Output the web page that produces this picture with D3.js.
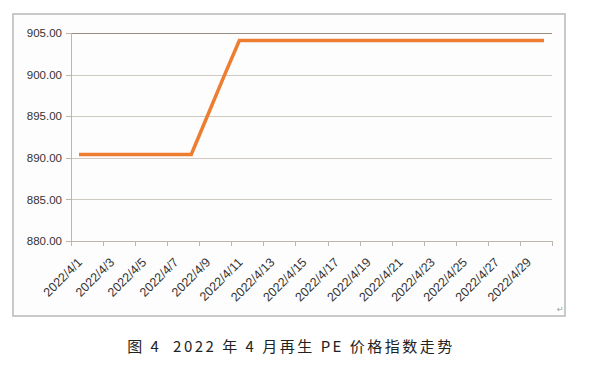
<!DOCTYPE html>
<html>
<head>
<meta charset="utf-8">
<style type="text/css">
  body { margin: 0; background: #fff; }
  .axis text { font: 11.5px "Liberation Sans", Arial, sans-serif; fill: #333; }
  .axis .lbl { font-size: 12.5px; }
  .axis path, .axis line { fill: none; stroke: #bdb6ae; shape-rendering: crispEdges; }
  .grid line { shape-rendering: crispEdges; }
  .caption { font: 15px "Noto Sans CJK SC", sans-serif; fill: #222; letter-spacing: 2.5px; white-space: pre; }
</style>
</head>
<body>
<div class="svg_container"></div>
<script src="https://cdnjs.cloudflare.com/ajax/libs/d3/7.8.5/d3.min.js"></script>
<script type="text/javascript">
// dates 2022/4/1 .. 2022/4/30
var dates = ["2022/4/1","2022/4/2","2022/4/3","2022/4/4","2022/4/5","2022/4/6","2022/4/7","2022/4/8",
  "2022/4/9","2022/4/10","2022/4/11","2022/4/12","2022/4/13","2022/4/14","2022/4/15","2022/4/16",
  "2022/4/17","2022/4/18","2022/4/19","2022/4/20","2022/4/21","2022/4/22","2022/4/23","2022/4/24",
  "2022/4/25","2022/4/26","2022/4/27","2022/4/28","2022/4/29","2022/4/30"];
var peIndex = [890.4,890.4,890.4,890.4,890.4,890.4,890.4,890.4,
  895.0,899.6,904.1,904.1,904.1,904.1,904.1,904.1,
  904.1,904.1,904.1,904.1,904.1,904.1,904.1,904.1,
  904.1,904.1,904.1,904.1,904.1,904.1];
var yTicks = [880, 885, 890, 895, 900, 905];
var caption = "图 4  2022 年 4 月再生 PE 价格指数走势";

var W = 601, H = 373;
var margin = { top: 33, right: 49, bottom: 132, left: 71 },
  width = W - margin.left - margin.right,
  height = H - margin.top - margin.bottom;

var svg = d3.select(".svg_container").append("svg")
  .attr("width", W)
  .attr("height", H);

// outer frame
svg.append("rect")
  .attr("x", 13).attr("y", 14)
  .attr("width", 552).attr("height", 302)
  .attr("fill", "#fdfdfd")
  .attr("stroke", "#c9c9c9")
  .attr("stroke-width", 2);

var g = svg.append("g")
  .attr("transform", "translate(" + margin.left + "," + margin.top + ")");

var x = d3.scaleBand().domain(dates).range([0, width]).padding(0);
var y = d3.scaleLinear().domain([880, 905]).range([height, 0]);

// grid lines
g.append("g").attr("class", "grid")
  .selectAll("line")
  .data(yTicks.slice(1))
  .enter().append("line")
  .attr("x1", 0).attr("x2", width)
  .attr("y1", function(d) { return Math.round(y(d)) + 0.5; })
  .attr("y2", function(d) { return Math.round(y(d)) + 0.5; })
  .attr("stroke", function(d) { return d === 905 ? "#9a8e82" : "#cfc9c3"; });

// y axis
g.append("g").attr("class", "axis")
  .call(d3.axisLeft(y).tickValues(yTicks).tickFormat(d3.format(".2f")).tickSize(5).tickPadding(4));

// x axis: tick marks every 2 categories, labels on odd days
var xAxisG = g.append("g").attr("class", "axis")
  .attr("transform", "translate(0," + height + ")");
xAxisG.append("line")
  .attr("x1", 0).attr("x2", width)
  .attr("y1", 0.5).attr("y2", 0.5);
var tickIdx = d3.range(0, dates.length + 1, 2);
xAxisG.selectAll(".tk")
  .data(tickIdx)
  .enter().append("line")
  .attr("class", "tk")
  .attr("x1", function(i) { return Math.round(i * x.step()) + 0.5; })
  .attr("x2", function(i) { return Math.round(i * x.step()) + 0.5; })
  .attr("y1", 0).attr("y2", 5);
xAxisG.selectAll(".lbl")
  .data(dates.filter(function(d, i) { return i % 2 === 0; }))
  .enter().append("text")
  .attr("class", "lbl")
  .attr("text-anchor", "end")
  .attr("transform", function(d) {
    return "translate(" + (x(d) + x.bandwidth() / 2 + 4) + ",22) rotate(-45)";
  })
  .text(function(d) { return d; });

// line
var line = d3.line()
  .x(function(d, i) { return x(dates[i]) + x.bandwidth() / 2; })
  .y(function(d) { return y(d); });
g.append("path")
  .datum(peIndex)
  .attr("fill", "none")
  .attr("stroke", "#ed7d31")
  .attr("stroke-width", 3.5)
  .attr("stroke-linejoin", "miter")
  .attr("d", line);

// paragraph mark
svg.append("text")
  .attr("x", 557).attr("y", 312)
  .attr("font-size", 8).attr("fill", "#999")
  .attr("font-family", "DejaVu Sans")
  .text("↵");

// caption
svg.append("text")
  .attr("class", "caption")
  .attr("x", 291).attr("y", 352)
  .attr("text-anchor", "middle")
  .text(caption);
</script>
</body>
</html>
